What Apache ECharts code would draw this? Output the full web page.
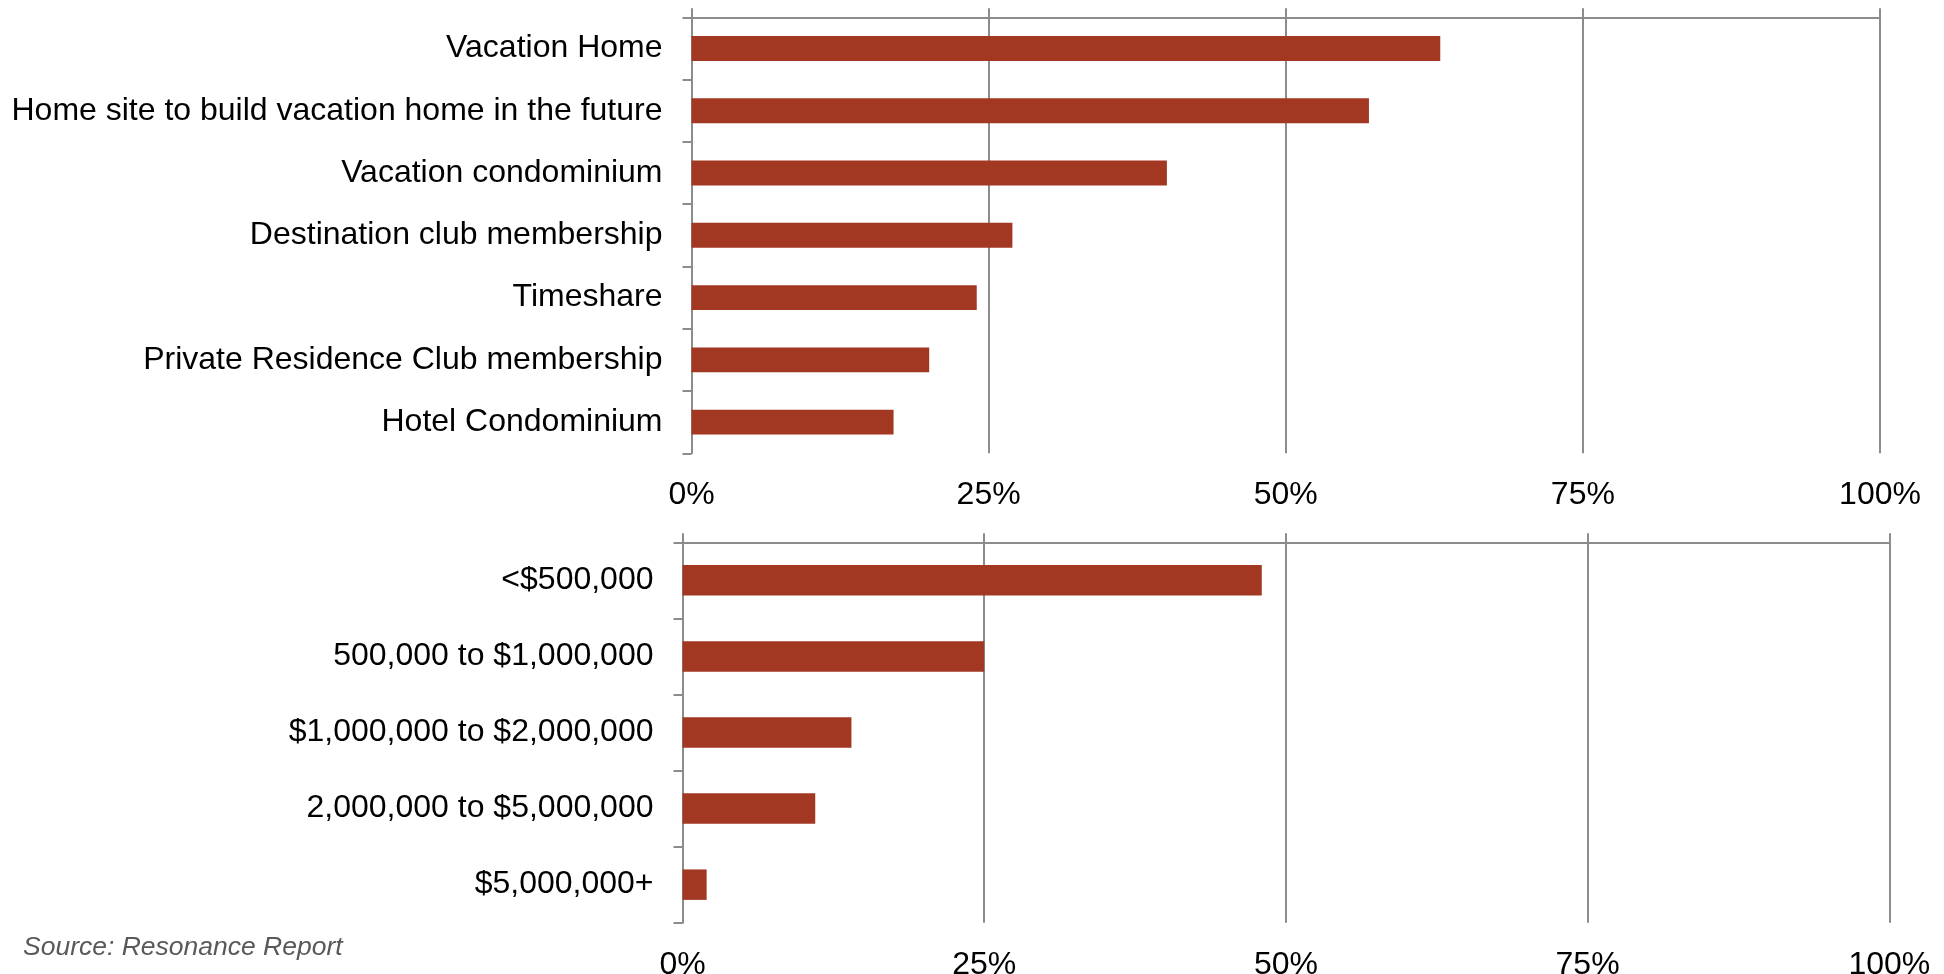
<!DOCTYPE html>
<html>
<head>
<meta charset="utf-8">
<title>Vacation property interest and price range</title>
<script src="https://cdn.jsdelivr.net/npm/echarts@6/dist/echarts.min.js"></script>
<style>
  html, body { margin: 0; padding: 0; background: #ffffff; }
  #chart { width: 1944px; height: 974px; }
</style>
</head>
<body>
<div id="chart"></div>
<script>
// Property types of interest (share of respondents, %)
const typeCategories = [
  'Vacation Home',
  'Home site to build vacation home in the future',
  'Vacation condominium',
  'Destination club membership',
  'Timeshare',
  'Private Residence Club membership',
  'Hotel Condominium'
];
const typeValues = [63, 57, 40, 27, 24, 20, 17];

// Planned price range (share of respondents, %)
const priceCategories = [
  '<$500,000',
  '500,000 to $1,000,000',
  '$1,000,000 to $2,000,000',
  '2,000,000 to $5,000,000',
  '$5,000,000+'
];
const priceValues = [48, 25, 14, 11, 2];

// Value axis ticks
const axisMin = 0;
const axisMax = 100;
const axisStep = 25;

const sourceNote = 'Source: Resonance Report';

const FONT = '"Liberation Sans", Arial, sans-serif';
const BAR = '#a23722';
const GRIDLINE = '#8c8c8c';

function labelAxis(gridIndex) {
  return {
    type: 'value', gridIndex, position: 'bottom',
    min: axisMin, max: axisMax, interval: axisStep,
    axisLine: { show: false },
    axisTick: { show: false },
    axisLabel: {
      formatter: v => v + '%',
      fontFamily: FONT, fontSize: 32, color: '#000000', margin: 26
    },
    splitLine: { show: true, lineStyle: { color: GRIDLINE, width: 2 } }
  };
}

function topAxis(gridIndex) {
  return {
    type: 'value', gridIndex, position: 'top',
    min: axisMin, max: axisMax, interval: axisStep,
    axisLine: { show: true, lineStyle: { color: GRIDLINE, width: 2 } },
    axisTick: { show: true, length: 9, lineStyle: { color: GRIDLINE, width: 2 } },
    axisLabel: { show: false },
    splitLine: { show: false }
  };
}

function categoryAxis(gridIndex, data) {
  return {
    type: 'category', gridIndex, data, inverse: true,
    axisLine: { show: true, lineStyle: { color: GRIDLINE, width: 2 } },
    axisTick: { show: true, length: 9, alignWithLabel: false, lineStyle: { color: GRIDLINE, width: 2 } },
    axisLabel: {
      fontFamily: FONT, fontSize: 32, color: '#000000', margin: 29,
      padding: [5, 0, 0, 0]
    },
    splitLine: { show: false }
  };
}

const chart = echarts.init(document.getElementById('chart'), null, { renderer: 'canvas' });

chart.setOption({
  backgroundColor: '#ffffff',
  animation: false,
  grid: [
    { left: 691.5, right: 64, top: 17.3, height: 436, containLabel: false, outerBoundsMode: 'none' },
    { left: 682.5, right: 54.7, top: 542.3, height: 380.4, containLabel: false, outerBoundsMode: 'none' }
  ],
  xAxis: [labelAxis(0), topAxis(0), labelAxis(1), topAxis(1)],
  yAxis: [categoryAxis(0, typeCategories), categoryAxis(1, priceCategories)],
  series: [
    {
      type: 'bar', xAxisIndex: 0, yAxisIndex: 0,
      data: typeValues, barWidth: '40%',
      itemStyle: { color: BAR }
    },
    {
      type: 'bar', xAxisIndex: 2, yAxisIndex: 1,
      data: priceValues, barWidth: '40%',
      itemStyle: { color: BAR }
    }
  ],
  graphic: [
    {
      type: 'text', left: 23, top: 934,
      style: {
        text: sourceNote, fill: '#595959',
        font: 'italic 26.5px ' + FONT
      }
    }
  ]
});
</script>
</body>
</html>
